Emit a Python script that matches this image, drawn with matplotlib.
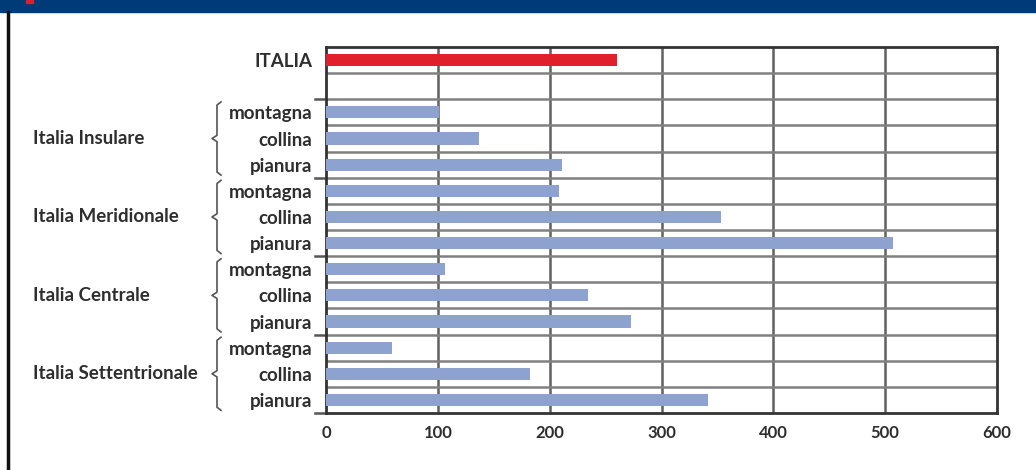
import matplotlib
matplotlib.use("Agg")
import matplotlib.pyplot as plt
from matplotlib.patches import Rectangle
from matplotlib.lines import Line2D
import matplotlib.transforms as mtransforms

# dati
zone = ["Italia Insulare", "Italia Meridionale", "Italia Centrale", "Italia Settentrionale"]
fasce = ["montagna", "collina", "pianura"]
insulare = [101, 137, 211]
meridionale = [208, 353, 507]
centrale = [106, 234, 273]
settentrionale = [59, 182, 342]
italia = 260
xticks = [0, 100, 200, 300, 400, 500, 600]

plt.rcParams['font.family'] = ['Lato', 'DejaVu Sans']

W, H = 1036, 470
fig = plt.figure(figsize=(W / 100, H / 100), dpi=100)
ax = fig.add_axes([326 / W, 1 - 413 / H, (997 - 326) / W, (413 - 47) / H])

blu = "#8ea2cf"
rosso = "#e0202c"
testo = "#2e2e2e"

# barra Italia in riga 0, riga 1 vuota, poi le zone
ax.barh(0, italia, height=0.46, color=rosso, zorder=3)
pos = 2
group_pos = []
for vals in [insulare, meridionale, centrale, settentrionale]:
    ys = list(range(pos, pos + 3))
    ax.barh(ys, vals, height=0.46, color=blu, zorder=3)
    group_pos.append(ys)
    pos += 3

ax.set_xlim(0, 600)
ax.set_ylim(13.5, -0.5)

# griglia
for x in xticks[1:-1]:
    ax.axvline(x, color="#606060", lw=1.8, zorder=1)
for k in range(13):
    ax.axhline(k + 0.5, color="#808080", lw=1.8, zorder=1)

for s in ax.spines.values():
    s.set_color("#333333")
    s.set_linewidth(2)

ax.set_xticks(xticks)
ax.set_xticklabels([str(x) for x in xticks], fontsize=12, fontweight="bold", color=testo)
ax.tick_params(axis="x", length=0, pad=9)

ylabels = ["ITALIA", ""] + fasce * 4
ax.set_yticks(range(14))
ax.set_yticklabels(ylabels, fontsize=13.5, fontweight="bold", color=testo)
ax.tick_params(axis="y", length=0, pad=10)

# piccole tacche ai confini dei gruppi
for b in [1.5, 4.5, 7.5, 10.5, 13.5]:
    ax.plot([-10, 0], [b, b], color="#555555", lw=1.8, clip_on=False, zorder=2)

# etichette delle zone e graffe
tr = mtransforms.blended_transform_factory(fig.transFigure, ax.transData)
for nome, ys in zip(zone, group_pos):
    fig.text(33 / W, 0, nome, transform=tr, fontsize=13.5, fontweight="bold",
             color=testo, va="center", ha="left").set_y(ys[1])
    top, bot, mid = ys[0] - 0.4, ys[2] + 0.4, ys[1]
    xr, xs, xl = 221 / W, 217 / W, 212 / W
    d = 0.12
    fig.add_artist(Line2D([xr, xs, xs, xl, xs, xs, xr],
                          [top, top + d, mid - d, mid, mid + d, bot - d, bot],
                          transform=tr, color="#555555", lw=1.2))

# testata blu e bordo sinistro
fig.add_artist(Rectangle((0, 1 - 12 / H), 1, 12 / H, transform=fig.transFigure,
                         color="#003b78", zorder=0))
fig.add_artist(Rectangle((26 / W, 1 - 3 / H), 7 / W, 3 / H, transform=fig.transFigure,
                         color="#d8202c", zorder=1))
fig.add_artist(Line2D([8 / W, 8 / W], [0, 1 - 12 / H], transform=fig.transFigure,
                      color="#111111", lw=2.5))

fig.savefig("out.png", dpi=100)
